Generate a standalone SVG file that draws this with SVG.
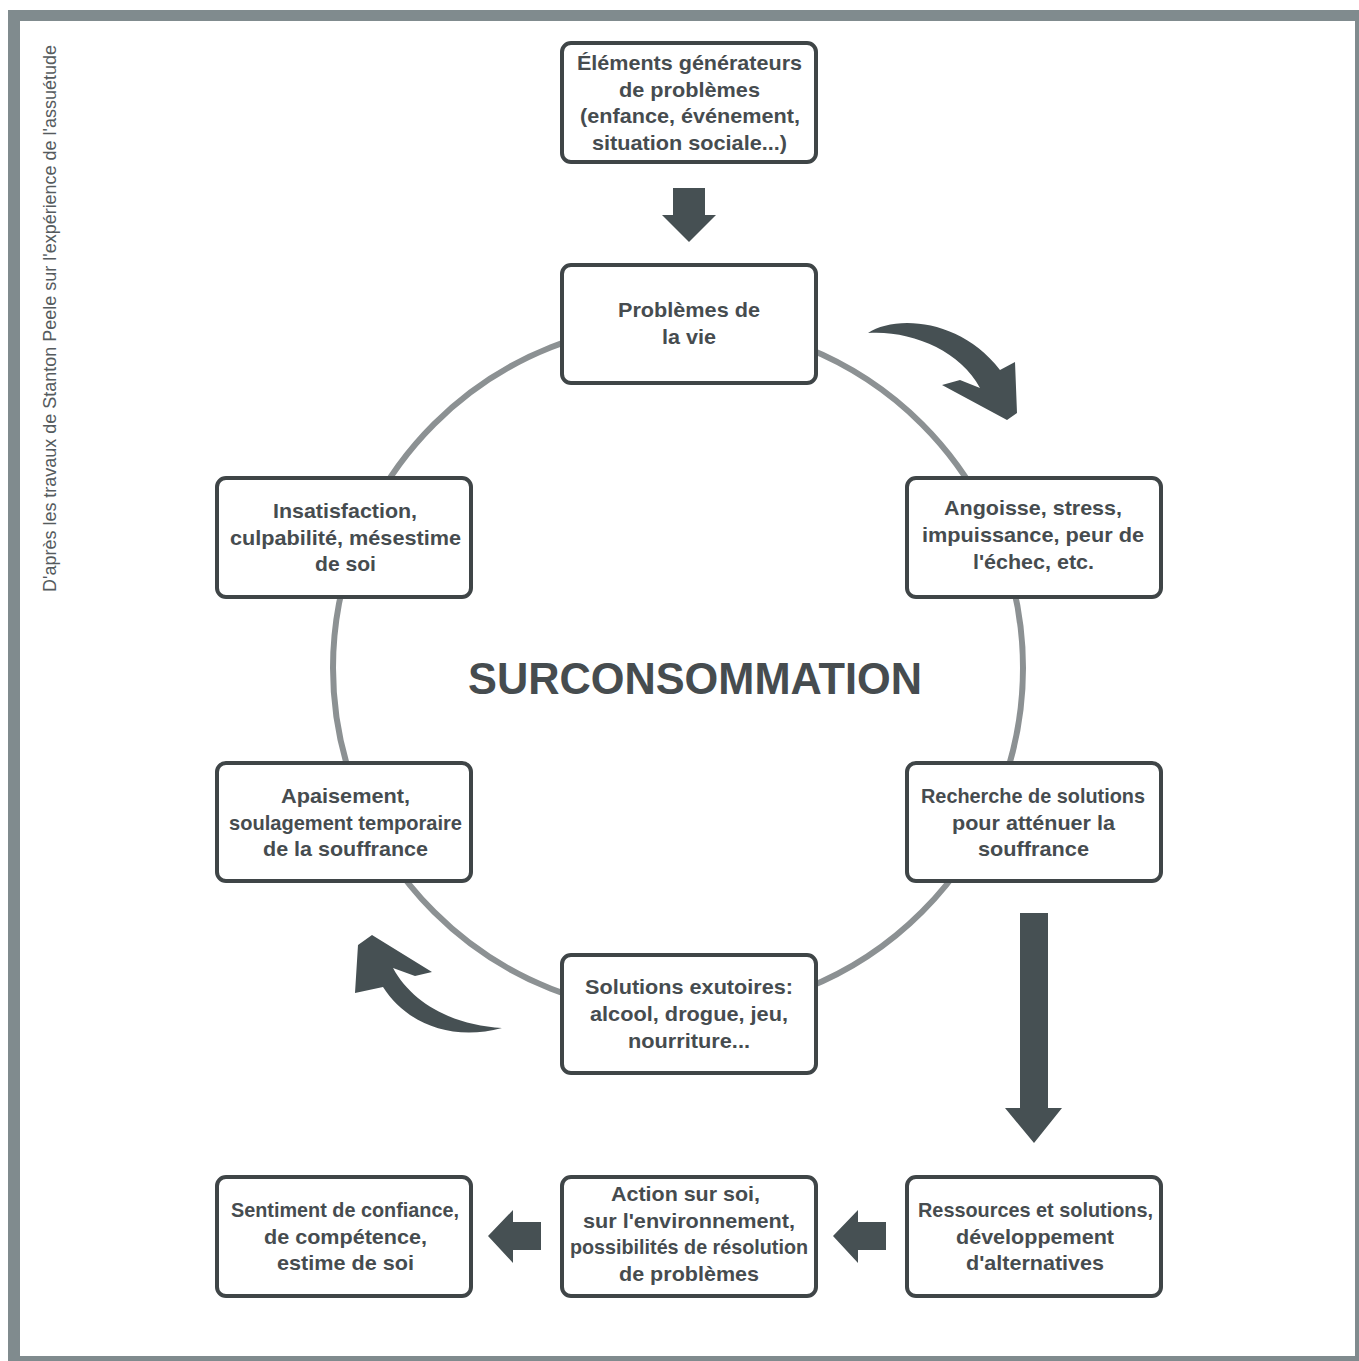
<svg xmlns="http://www.w3.org/2000/svg" width="1359" height="1361" viewBox="0 0 1359 1361">
<style>
.box{fill:#fff;stroke:#3f4547;stroke-width:4}
.t{font-family:"Liberation Sans",Arial,sans-serif;font-size:20.5px;font-weight:bold;fill:#464c4f;text-anchor:middle}
.arr{fill:#465053}
.fr{fill:#808b8e}
</style>
<rect x="0" y="0" width="1359" height="1361" fill="#fff"/>
<g id="frame">
<rect class="fr" x="8" y="10" width="1351" height="11"/>
<rect class="fr" x="8" y="10" width="12" height="1351"/>
<rect class="fr" x="1355" y="10" width="4" height="1351"/>
<rect class="fr" x="8" y="1356" width="1351" height="5"/>
</g>
<text transform="translate(56,318.5) rotate(-90)" font-family="Liberation Sans,Arial,sans-serif" font-size="17.5" fill="#555b5e" text-anchor="middle" textLength="547" lengthAdjust="spacingAndGlyphs">D'après les travaux de Stanton Peele sur l'expérience de l'assuétude</text>
<g id="connectors">
<circle cx="678" cy="668" r="345" fill="none" stroke="#8c9193" stroke-width="6"/>
<path class="arr" d="M673,188 H705 V215 H716 L689,242 L662,215 H673 Z"/>
<path class="arr" d="M1020,913 H1048 V1108 H1062 L1034,1143 L1005,1108 H1020 Z"/>
<path class="arr" d="M886,1222 V1250 H858 V1263 L833,1236 L858,1210 V1222 Z"/>
<path class="arr" d="M541,1222 V1250 H513 V1263 L488,1236 L513,1210 V1222 Z"/>
<path class="arr" d="M868,333 C 895,315 960,318 1000,370 L1015,362 L1017,413 L1007,420 L942,385 L960,380 L980,388 C 960,350 910,330 868,333 Z"/>
<path class="arr" d="M502,1028 C 450,1042 405,1022 383,987 L355,993 L358,945 L372,935 L432,972 L415,976 L393,968 C 412,1003 452,1025 502,1028 Z"/>
</g>
<g id="n1"><rect class="box" x="562" y="43" width="254" height="119" rx="9"/>
<text class="t" lengthAdjust="spacingAndGlyphs" x="689.5" y="70" textLength="225">Éléments générateurs</text><text class="t" lengthAdjust="spacingAndGlyphs" x="689.5" y="97" textLength="141">de problèmes</text><text class="t" lengthAdjust="spacingAndGlyphs" x="690" y="123" textLength="220">(enfance, événement,</text><text class="t" lengthAdjust="spacingAndGlyphs" x="689.5" y="150" textLength="195">situation sociale...)</text></g>
<g id="n2"><rect class="box" x="562" y="265" width="254" height="118" rx="9"/>
<text class="t" lengthAdjust="spacingAndGlyphs" x="689" y="317" textLength="142">Problèmes de</text><text class="t" lengthAdjust="spacingAndGlyphs" x="689" y="344" textLength="54">la vie</text></g>
<g id="n3"><rect class="box" x="907" y="478" width="254" height="119" rx="9"/>
<text class="t" lengthAdjust="spacingAndGlyphs" x="1033" y="515" textLength="178">Angoisse, stress,</text><text class="t" lengthAdjust="spacingAndGlyphs" x="1033" y="542" textLength="222">impuissance, peur de</text><text class="t" lengthAdjust="spacingAndGlyphs" x="1033.5" y="569" textLength="121">l'échec, etc.</text></g>
<g id="n4"><rect class="box" x="907" y="763" width="254" height="118" rx="9"/>
<text class="t" lengthAdjust="spacingAndGlyphs" x="1033" y="803" textLength="224">Recherche de solutions</text><text class="t" lengthAdjust="spacingAndGlyphs" x="1033.5" y="830" textLength="163">pour atténuer la</text><text class="t" lengthAdjust="spacingAndGlyphs" x="1033.5" y="856" textLength="111">souffrance</text></g>
<g id="n5"><rect class="box" x="562" y="955" width="254" height="118" rx="9"/>
<text class="t" lengthAdjust="spacingAndGlyphs" x="689" y="994" textLength="208">Solutions exutoires:</text><text class="t" lengthAdjust="spacingAndGlyphs" x="689" y="1021" textLength="198">alcool, drogue, jeu,</text><text class="t" lengthAdjust="spacingAndGlyphs" x="689" y="1048" textLength="122">nourriture...</text></g>
<g id="n6"><rect class="box" x="217" y="763" width="254" height="118" rx="9"/>
<text class="t" lengthAdjust="spacingAndGlyphs" x="345.5" y="803" textLength="129">Apaisement,</text><text class="t" lengthAdjust="spacingAndGlyphs" x="345.5" y="830" textLength="233">soulagement temporaire</text><text class="t" lengthAdjust="spacingAndGlyphs" x="345.5" y="856" textLength="165">de la souffrance</text></g>
<g id="n7"><rect class="box" x="217" y="478" width="254" height="119" rx="9"/>
<text class="t" lengthAdjust="spacingAndGlyphs" x="345" y="518" textLength="144">Insatisfaction,</text><text class="t" lengthAdjust="spacingAndGlyphs" x="345.5" y="545" textLength="231">culpabilité, mésestime</text><text class="t" lengthAdjust="spacingAndGlyphs" x="345.5" y="571" textLength="61">de soi</text></g>
<g id="n8"><rect class="box" x="907" y="1177" width="254" height="119" rx="9"/>
<text class="t" lengthAdjust="spacingAndGlyphs" x="1035.5" y="1217" textLength="235">Ressources et solutions,</text><text class="t" lengthAdjust="spacingAndGlyphs" x="1035" y="1244" textLength="158">développement</text><text class="t" lengthAdjust="spacingAndGlyphs" x="1035" y="1270" textLength="138">d'alternatives</text></g>
<g id="n9"><rect class="box" x="562" y="1177" width="254" height="119" rx="9"/>
<text class="t" lengthAdjust="spacingAndGlyphs" x="685.5" y="1201" textLength="149">Action sur soi,</text><text class="t" lengthAdjust="spacingAndGlyphs" x="689" y="1228" textLength="212">sur l'environnement,</text><text class="t" lengthAdjust="spacingAndGlyphs" x="689" y="1254" textLength="238">possibilités de résolution</text><text class="t" lengthAdjust="spacingAndGlyphs" x="689" y="1281" textLength="140">de problèmes</text></g>
<g id="n10"><rect class="box" x="217" y="1177" width="254" height="119" rx="9"/>
<text class="t" lengthAdjust="spacingAndGlyphs" x="345" y="1217" textLength="228">Sentiment de confiance,</text><text class="t" lengthAdjust="spacingAndGlyphs" x="345.5" y="1244" textLength="163">de compétence,</text><text class="t" lengthAdjust="spacingAndGlyphs" x="345.5" y="1270" textLength="137">estime de soi</text></g>
<text x="695" y="694" font-family="Liberation Sans,Arial,sans-serif" font-size="43.5" font-weight="bold" fill="#464c4f" text-anchor="middle" textLength="454" lengthAdjust="spacingAndGlyphs">SURCONSOMMATION</text>
</svg>
